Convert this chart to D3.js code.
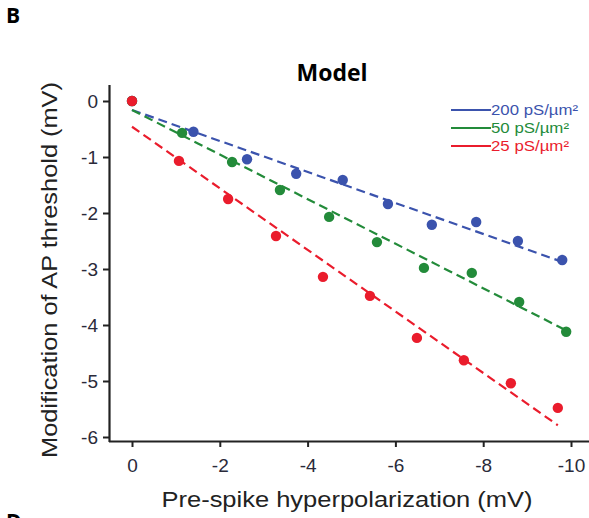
<!DOCTYPE html>
<html>
<head>
<meta charset="utf-8">
<script src="https://cdn.jsdelivr.net/npm/d3@7"></script>
<style>
  body { margin: 0; background: #fff; }
  svg { display: block; }
</style>
</head>
<body>
<div class="chart"></div>
<script>
// Series data (x = pre-spike hyperpolarization, y = threshold change)
var seriesNames = ["200 pS/\u00b5m\u00b2", "50 pS/\u00b5m\u00b2", "25 pS/\u00b5m\u00b2"];
var seriesColors = ["#3b53ad", "#238b3a", "#ea1c2c"];

var xBlue = [0, -1.4, -2.62, -3.74, -4.8, -5.83, -6.83, -7.84, -8.79, -9.8];
var yBlue = [0, -0.55, -1.04, -1.30, -1.41, -1.84, -2.21, -2.16, -2.50, -2.84];

var xGreen = [0, -1.14, -2.28, -3.37, -4.49, -5.58, -6.65, -7.74, -8.82, -9.89];
var yGreen = [0, -0.57, -1.09, -1.59, -2.07, -2.52, -2.98, -3.07, -3.59, -4.12];

var xRed = [0, -1.07, -2.19, -3.28, -4.35, -5.42, -6.49, -7.56, -8.63, -9.7];
var yRed = [0, -1.07, -1.75, -2.41, -3.14, -3.48, -4.23, -4.63, -5.04, -5.48];

// Dashed fit lines: [start, end] as [x, y]
var fitBlue = [[0, -0.16], [-9.9, -2.9]];
var fitGreen = [[0, -0.16], [-9.9, -4.1]];
var fitRed = [[0, -0.46], [-9.7, -5.79]];

var xTicks = [0, -2, -4, -6, -8, -10];
var yTicks = [0, -1, -2, -3, -4, -5, -6];

var width = 589, height = 518;

var svg = d3.select(".chart").append("svg")
    .attr("width", width)
    .attr("height", height);

//Scales
var x = d3.scaleLinear().domain([0, -10]).range([132, 571]);
var y = d3.scaleLinear().domain([0, -6]).range([101, 437]);

var font = "Arial, 'Liberation Sans', sans-serif";
var boldFont = "'Open Sans', 'Noto Sans', sans-serif";
var axisColor = "#222";
var plain = function (d) { return String(d); }; // hyphen minus like the figure

//Axes
var xAxis = svg.append("g")
    .attr("transform", "translate(0,441)")
    .call(d3.axisBottom(x).tickValues(xTicks).tickSize(6).tickSizeOuter(0).tickFormat(plain));
xAxis.select(".domain").attr("d", "M109,0.5H589").attr("stroke", axisColor).attr("stroke-width", 2.2);
xAxis.selectAll(".tick line").attr("stroke", axisColor).attr("stroke-width", 2);
xAxis.selectAll(".tick text")
    .attr("y", 18)
    .attr("dy", "0.71em")
    .style("font-family", font)
    .style("font-size", "19px")
    .attr("fill", "#2a2a3a");

var yAxis = svg.append("g")
    .attr("transform", "translate(109,0)")
    .call(d3.axisLeft(y).tickValues(yTicks).tickSize(6).tickSizeOuter(0).tickFormat(plain));
yAxis.select(".domain").attr("d", "M0.5,85V442").attr("stroke", axisColor).attr("stroke-width", 2.2);
yAxis.selectAll(".tick line").attr("stroke", axisColor).attr("stroke-width", 2);
yAxis.selectAll(".tick text")
    .attr("x", -11)
    .style("font-family", font)
    .style("font-size", "19px")
    .attr("fill", "#2a2a3a");

//Build series
var series = [
    { xs: xBlue, ys: yBlue, fit: fitBlue },
    { xs: xGreen, ys: yGreen, fit: fitGreen },
    { xs: xRed, ys: yRed, fit: fitRed }
];

//Fit lines
var line = d3.line().x(function (d) { return x(d[0]); }).y(function (d) { return y(d[1]); });
series.forEach(function (s, i) {
    svg.append("path")
        .attr("d", line(s.fit))
        .attr("fill", "none")
        .attr("stroke", seriesColors[i])
        .attr("stroke-width", 2.2)
        .attr("stroke-dasharray", "9,5");
});

//Points
series.forEach(function (s, i) {
    svg.append("g").selectAll("circle")
        .data(s.xs.map(function (v, j) { return [v, s.ys[j]]; }))
        .enter().append("circle")
        .attr("cx", function (d) { return x(d[0]); })
        .attr("cy", function (d) { return y(d[1]); })
        .attr("r", 5.2)
        .attr("fill", seriesColors[i]);
});

//Legend
var legend = svg.append("g").attr("transform", "translate(451,110)");
seriesNames.forEach(function (name, i) {
    var row = legend.append("g").attr("transform", "translate(0," + (i * 18) + ")");
    row.append("line")
        .attr("x1", 0).attr("x2", 40)
        .attr("stroke", seriesColors[i])
        .attr("stroke-width", 2);
    row.append("text")
        .attr("x", 40)
        .attr("dy", "0.35em")
        .attr("textLength", i === 0 ? 87 : 78)
        .attr("lengthAdjust", "spacingAndGlyphs")
        .style("font-family", font)
        .style("font-size", "15px")
        .attr("fill", seriesColors[i])
        .text(name);
});

//Titles
svg.append("text")
    .attr("x", 332).attr("y", 81)
    .attr("text-anchor", "middle")
    .style("font-family", boldFont)
    .style("font-weight", "bold")
    .style("font-size", "23px")
    .text("Model");

svg.append("text")
    .attr("x", 6).attr("y", 23)
    .style("font-family", boldFont)
    .style("font-weight", "bold")
    .style("font-size", "21px")
    .text("B");

svg.append("text")
    .attr("x", 6).attr("y", 529)
    .style("font-family", boldFont)
    .style("font-weight", "bold")
    .style("font-size", "21px")
    .text("D");

svg.append("text")
    .attr("transform", "translate(57,270) rotate(-90)")
    .attr("text-anchor", "middle")
    .attr("textLength", 376)
    .attr("lengthAdjust", "spacingAndGlyphs")
    .style("font-family", font)
    .style("font-size", "22px")
    .attr("fill", "#222")
    .text("Modification of AP threshold (mV)");

svg.append("text")
    .attr("x", 347).attr("y", 507)
    .attr("text-anchor", "middle")
    .attr("textLength", 371)
    .attr("lengthAdjust", "spacingAndGlyphs")
    .style("font-family", font)
    .style("font-size", "22px")
    .attr("fill", "#222")
    .text("Pre-spike hyperpolarization (mV)");
</script>
</body>
</html>
